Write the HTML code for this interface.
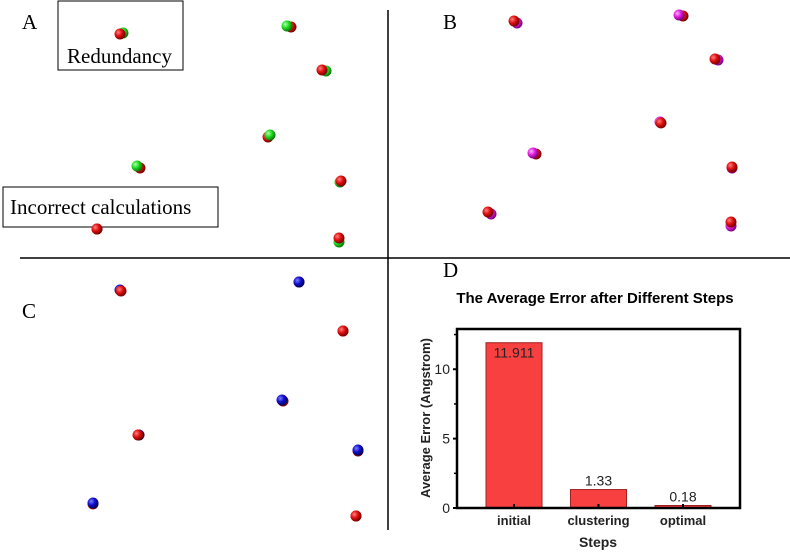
<!DOCTYPE html>
<html><head><meta charset="utf-8"><style>
body{margin:0;background:#fff;width:790px;height:552px;overflow:hidden}
svg{display:block}
.serif{font-family:"Liberation Serif",serif}
.sans{font-family:"Liberation Sans",sans-serif}
</style></head><body>
<svg id="fig" width="790" height="552" xmlns="http://www.w3.org/2000/svg">
<defs>
<radialGradient id="gr" cx="35%" cy="35%" r="65%"><stop offset="0" stop-color="#ff8080"/><stop offset="0.5" stop-color="#e01010"/><stop offset="1" stop-color="#7a0000"/></radialGradient>
<radialGradient id="gg" cx="35%" cy="35%" r="65%"><stop offset="0" stop-color="#b0ffb0"/><stop offset="0.5" stop-color="#20dd20"/><stop offset="1" stop-color="#0a7a0a"/></radialGradient>
<radialGradient id="gm" cx="35%" cy="35%" r="65%"><stop offset="0" stop-color="#ffb0ff"/><stop offset="0.5" stop-color="#e020e0"/><stop offset="1" stop-color="#800080"/></radialGradient>
<radialGradient id="gb" cx="35%" cy="35%" r="65%"><stop offset="0" stop-color="#8080ff"/><stop offset="0.5" stop-color="#1010d0"/><stop offset="1" stop-color="#000060"/></radialGradient>
</defs>
<line x1="388" y1="10" x2="388" y2="530" stroke="#000" stroke-width="1.5"/>
<line x1="20" y1="258" x2="790" y2="258" stroke="#000" stroke-width="1.5"/>
<text x="22" y="29" class="serif" font-size="21">A</text>
<text x="443" y="29" class="serif" font-size="21">B</text>
<text x="22" y="318" class="serif" font-size="21">C</text>
<text x="443" y="277" class="serif" font-size="21">D</text>
<rect x="58" y="1" width="125" height="69" fill="none" stroke="#000"/>
<text x="67" y="63" class="serif" font-size="21">Redundancy</text>
<rect x="3" y="187" width="215" height="40" fill="none" stroke="#000"/>
<text x="10" y="214" class="serif" font-size="21">Incorrect calculations</text>
<g id="dots"></g>
<g id="chart"></g>
</svg>
<script>
const NS="http://www.w3.org/2000/svg";
function mk(t,a,p){const e=document.createElementNS(NS,t);for(const k in a)e.setAttribute(k,a[k]);p.appendChild(e);return e;}
const atomsA=[[120,34,'gg','gr',3,-1],[287,26,'gr','gg',4,1],[322,70,'gg','gr',4,1],[270,135,'gr','gg',-2,2],[137,166,'gr','gg',3,2],[341,181,'gg','gr',-1,1],[97,229,'gr','gr',0,0],[339,238,'gg','gr',0,4]];
const atomsB=[[514,21,'gm','gr',3,2],[679,15,'gr','gm',4,1],[715,59,'gm','gr',3,1],[661,123,'gm','gr',-1,-1],[533,153,'gr','gm',3,1],[732,167,'gm','gr',0,1],[488,212,'gm','gr',3,2],[731,222,'gm','gr',0,4]];
const atomsC=[[121,291,'gb','gr',-1,-1],[299,282,'gr','gb',0,0],[343,331,'gr','gr',0,0],[282,400,'gr','gb',1,1],[138,435,'gb','gr',1,0],[358,450,'gr','gb',0,1],[93,503,'gr','gb',0,1],[356,516,'gr','gr',0,0]];
const dg=document.getElementById('dots');
[atomsA,atomsB,atomsC].forEach((set,si)=>set.forEach((a,i)=>{
  const g=mk('g',{},dg);
  
  
  mk('circle',{cx:a[0]+a[4],cy:a[1]+a[5],r:5.5,fill:'url(#'+a[2]+')'},g);
  mk('circle',{cx:a[0],cy:a[1],r:5.5,fill:'url(#'+a[3]+')'},g);
}));
const categories=['initial','clustering','optimal'];
const values=[11.911,1.33,0.18];
const valueLabels=['11.911','1.33','0.18'];
const yTicks=[0,5,10];
const yMinor=[2.5,7.5,12.5];
const X0=457,X1=740,Y0=508,YT=329,YMAX=12.9;
const y=v=>Y0-(v/YMAX)*(Y0-YT);
const x=i=>514+i*84.5;
const c=document.getElementById('chart');
let t=mk('text',{x:595,y:303,'text-anchor':'middle','font-size':15,'font-weight':'bold',class:'sans'},c);t.textContent='The Average Error after Different Steps';

categories.forEach((cat,i)=>{
  const b=mk('rect',{x:x(i)-28,y:y(values[i]),width:56,height:Y0-y(values[i]),fill:'#f84040',stroke:'#a02020','stroke-width':1},c);
  
  
  const inside=values[i]>5;
  const l=mk('text',{x:x(i),y:inside?y(values[i])+15:y(values[i])-4,'text-anchor':'middle','font-size':14,class:'sans',fill:'#222'},c);
  l.textContent=valueLabels[i];
  
  
  const xl=mk('text',{x:x(i),y:525,'text-anchor':'middle','font-size':13,'font-weight':'bold',class:'sans',fill:'#222'},c);
  xl.textContent=cat;
  
  
  mk('line',{x1:x(i),x2:x(i),y1:Y0,y2:Y0-4,stroke:'#000','stroke-width':2},c);
});
const frame=mk('rect',{x:X0,y:YT,width:X1-X0,height:Y0-YT,fill:'none',stroke:'#000','stroke-width':2.5},c);


yTicks.forEach(v=>{
  mk('line',{x1:X0-4,x2:X0,y1:y(v),y2:y(v),stroke:'#000','stroke-width':2},c);
  const l=mk('text',{x:X0-7,y:y(v)+5,'text-anchor':'end','font-size':14,class:'sans',fill:'#222'},c);
  l.textContent=v;
  
  
});
yMinor.forEach(v=>mk('line',{x1:X0-3,x2:X0,y1:y(v),y2:y(v),stroke:'#000','stroke-width':1.5},c));
t=mk('text',{x:430,y:418,'text-anchor':'middle','font-size':13,'font-weight':'bold',class:'sans',fill:'#222',transform:'rotate(-90 430 418)'},c);t.textContent='Average Error (Angstrom)';

t=mk('text',{x:598,y:547,'text-anchor':'middle','font-size':14,'font-weight':'bold',class:'sans',fill:'#222'},c);t.textContent='Steps';

</script>
</body></html>
